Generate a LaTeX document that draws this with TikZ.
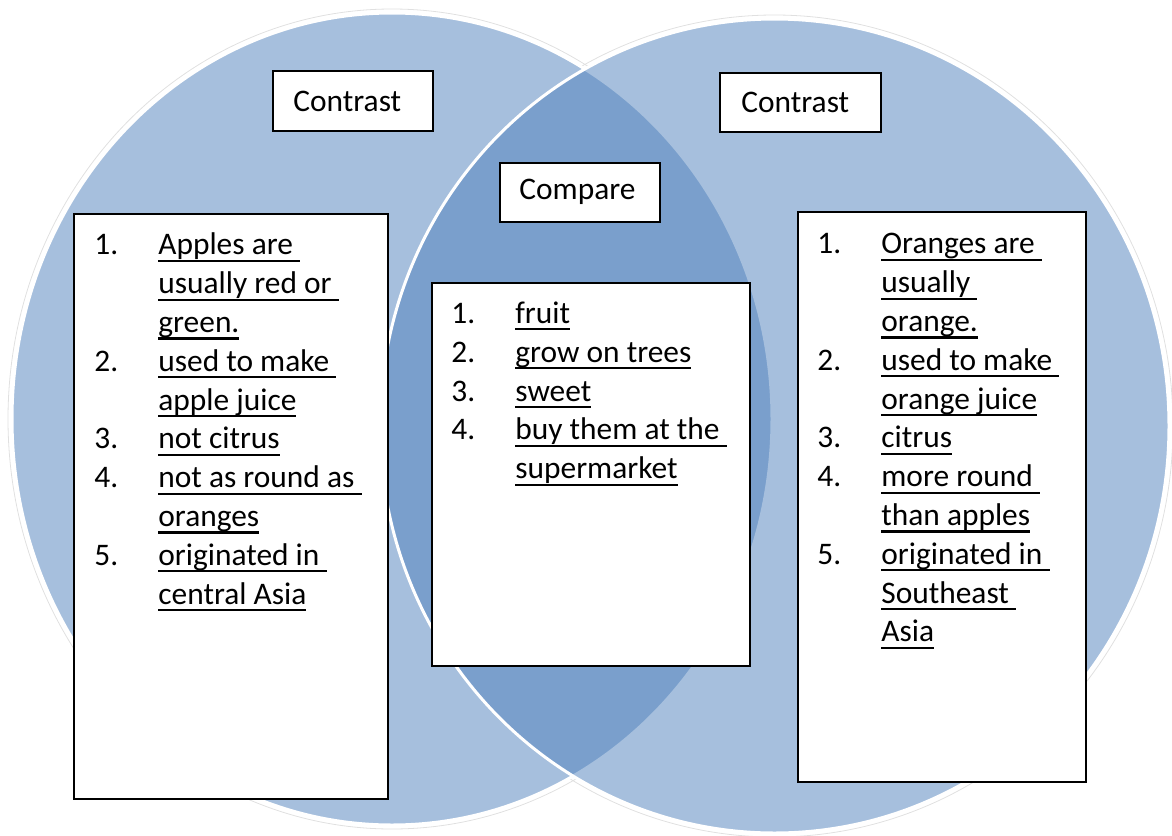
\documentclass[tikz,border=0pt]{standalone}
\usepackage{fontspec}
\setmainfont{Carlito}
\definecolor{vblue}{HTML}{4F81BD}
\newcommand\ulx[1]{\setbox0\hbox{#1}\rlap{\rule[-3.5pt]{\wd0}{1.05pt}}\box0}
\newcommand\itm[2]{\makebox[32pt][l]{#1}\ulx{#2}}
\newcommand\cnt[1]{\hspace*{32pt}\ulx{#1}}
\newcommand\fst{\rule{0pt}{12pt}}
\begin{document}
\begin{tikzpicture}[x=0.5pt,y=-0.5pt,
  venn/.style={fill=vblue, fill opacity=0.5, draw=white, line width=1.5pt},
  under/.style={fill=white},
  rim/.style={draw=black!12, line width=0.4pt},
  box/.style={draw=black, line width=1pt, fill=white, inner sep=0pt, anchor=north west},
  lbl/.style={font=\fontsize{15.7}{19.4}\selectfont},
  lst/.style={anchor=north west, inner sep=0pt, align=left, font=\fontsize{15.7}{19.4}\selectfont}]
\useasboundingbox (0,0) rectangle (1172,835);
% circles
\path[rim] (392,419) ellipse [x radius=192pt, y radius=205pt];
\path[rim] (774.5,426) ellipse [x radius=199.25pt, y radius=205.5pt];
\path[under] (392,419) ellipse [x radius=190pt, y radius=203pt];
\path[under] (774.5,426) ellipse [x radius=197.25pt, y radius=203.5pt];
\path[venn] (392,419) ellipse [x radius=190pt, y radius=203pt];
\path[venn] (774.5,426) ellipse [x radius=197.25pt, y radius=203.5pt];
% title boxes
\node[box, minimum width=80pt, minimum height=30pt] (contrastL) at (272,70) {};
\node[lbl, anchor=west, inner sep=0pt] (contrastLt) at (293,101) {Contrast};
\node[box, minimum width=80.5pt, minimum height=29.5pt] (contrastR) at (719,72) {};
\node[lbl, anchor=west, inner sep=0pt] (contrastRt) at (741,102) {Contrast};
\node[box, minimum width=80pt, minimum height=29.5pt] (compare) at (499,162) {};
\node[lbl, anchor=west, inner sep=0pt] (comparet) at (519,192) {Compare};
% list boxes
\node[box, minimum width=157pt, minimum height=292.5pt] (boxL) at (73,213) {};
\node[box, minimum width=159pt, minimum height=191.5pt] (boxM) at (431,282) {};
\node[box, minimum width=144pt, minimum height=285pt] (boxR) at (797,211) {};
% lists
\node[lst] (listL) at (94,230.5) {\fst\itm{1.}{Apples are\ }\\
  \cnt{usually red or\ }\\
  \cnt{green.}\\
  \itm{2.}{used to make\ }\\
  \cnt{apple juice}\\
  \itm{3.}{not citrus}\\
  \itm{4.}{not as round as\ }\\
  \cnt{oranges}\\
  \itm{5.}{originated in\ }\\
  \cnt{central Asia}};
\node[lst] (listM) at (451,299) {\fst\itm{1.}{fruit}\\
  \itm{2.}{grow on trees}\\
  \itm{3.}{sweet}\\
  \itm{4.}{buy them at the\ }\\
  \cnt{supermarket}};
\node[lst] (listR) at (817,229.5) {\fst\itm{1.}{Oranges are\ }\\
  \cnt{usually\ }\\
  \cnt{orange.}\\
  \itm{2.}{used to make\ }\\
  \cnt{orange juice}\\
  \itm{3.}{citrus}\\
  \itm{4.}{more round\ }\\
  \cnt{than apples}\\
  \itm{5.}{originated in\ }\\
  \cnt{Southeast\ }\\
  \cnt{Asia}};
\end{tikzpicture}
\end{document}
